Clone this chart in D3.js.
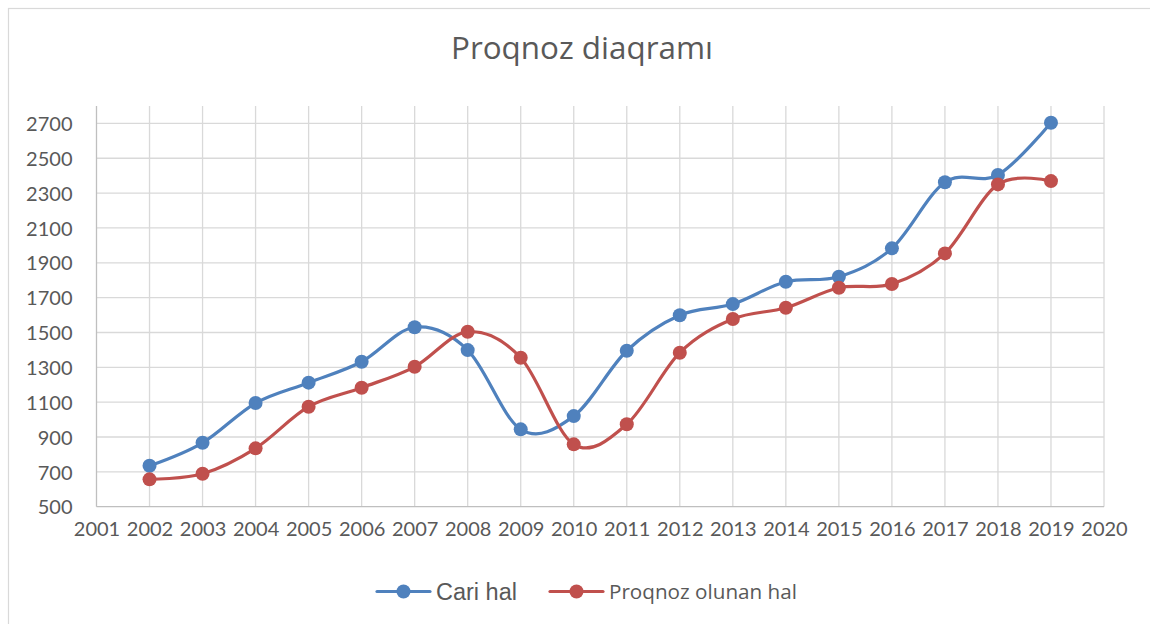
<!DOCTYPE html>
<html>
<head>
<meta charset="utf-8">
<script src="https://cdn.jsdelivr.net/npm/d3@7"></script>
<style>
  body { margin: 0; background: #fff; }
  svg { display: block; }
</style>
</head>
<body>
<svg id="chart" width="1150" height="624"></svg>
<script>
// data
const years = [2002, 2003, 2004, 2005, 2006, 2007, 2008, 2009, 2010, 2011,
               2012, 2013, 2014, 2015, 2016, 2017, 2018, 2019];
const cariHal = [735, 867, 1095, 1212, 1332, 1530, 1399, 944, 1020, 1395,
                 1599, 1663, 1791, 1820, 1983, 2362, 2404, 2704];
const proqnozHal = [657, 689, 835, 1074, 1183, 1303, 1504, 1355, 858, 973,
                    1384, 1577, 1642, 1757, 1778, 1954, 2350, 2369];
const xTicks = d3.range(2001, 2021);
const yTicks = d3.range(500, 2701, 200);
const seriesNames = ["Cari hal", "Proqnoz olunan hal"];

const colors = ["#4f81bd", "#c0504d"];
const textColor = "#595959";
const fontFam = "Lato, 'Open Sans', sans-serif";
const wideFam = "'Open Sans', Lato, sans-serif";

const svg = d3.select("#chart");

// shrink/grow a text so it spans the wanted width
function fitWidth(sel, target){
  let size = parseFloat(sel.attr("font-size"));
  let w = sel.node().getComputedTextLength();
  if (w > 0) sel.attr("font-size", (size * target / w).toFixed(2));
}

// outer chart border
svg.append("rect")
  .attr("x", 8.5).attr("y", 8.5)
  .attr("width", 1160).attr("height", 640)
  .attr("fill", "none")
  .attr("stroke", "#d9d9d9")
  .attr("stroke-width", 1.2);

const plot = {left: 96.5, right: 1104, top: 106, bottom: 506.7};

const x = d3.scaleLinear().domain([2001, 2020]).range([plot.left, plot.right]);
const y = d3.scaleLinear().domain([500, 2800]).range([plot.bottom, plot.top]);

// title
const title = svg.append("text")
  .attr("x", 582).attr("y", 59)
  .attr("text-anchor", "middle")
  .attr("font-family", wideFam)
  .attr("font-size", 28)
  .attr("fill", textColor)
  .text("Proqnoz diaqramı");
fitWidth(title, 262);

// grid: horizontal
const grid = svg.append("g");
grid.selectAll("line.h")
  .data(yTicks.filter(d => d > 500))
  .enter().append("line")
  .attr("class", "h")
  .attr("x1", plot.left).attr("x2", plot.right)
  .attr("y1", d => y(d)).attr("y2", d => y(d))
  .attr("stroke", "#d9d9d9").attr("stroke-width", 1.3);

// grid: vertical
grid.selectAll("line.v")
  .data(xTicks.filter(d => d > 2001))
  .enter().append("line")
  .attr("class", "v")
  .attr("x1", d => x(d)).attr("x2", d => x(d))
  .attr("y1", plot.top).attr("y2", plot.bottom)
  .attr("stroke", "#d9d9d9").attr("stroke-width", 1.3);

// axes with d3 axis generators
const xAxis = d3.axisBottom(x)
  .tickValues(xTicks)
  .tickFormat(d3.format("d"))
  .tickSize(0)
  .tickPadding(15);

const yAxis = d3.axisLeft(y)
  .tickValues(yTicks)
  .tickFormat(d3.format("d"))
  .tickSize(0)
  .tickPadding(24);

const gx = svg.append("g")
  .attr("transform", `translate(0,${plot.bottom})`)
  .call(xAxis);
const gy = svg.append("g")
  .attr("transform", `translate(${plot.left},0)`)
  .call(yAxis);

[gx, gy].forEach(g => {
  g.select(".domain").attr("stroke", "#bfbfbf").attr("stroke-width", 1.3);
  g.selectAll("text")
    .attr("font-family", fontFam)
    .attr("font-size", 20)
    .attr("fill", textColor);
});
gx.select(".domain").attr("d", `M${plot.left},0H${plot.right}`);
gy.select(".domain").attr("d", `M0,${plot.bottom}V${plot.top}`);
gy.selectAll("text").attr("dy", "0.36em");

// series
const line = d3.line()
  .x(d => x(d[0]))
  .y(d => y(d[1]))
  .curve(d3.curveCardinal.tension(0));

const series = [cariHal, proqnozHal].map(vals => years.map((yr, i) => [yr, vals[i]]));

series.forEach((pts, si) => {
  const g = svg.append("g");
  g.append("path")
    .datum(pts)
    .attr("d", line)
    .attr("fill", "none")
    .attr("stroke", colors[si])
    .attr("stroke-width", 3.2)
    .attr("stroke-linecap", "round");
  g.selectAll("circle")
    .data(pts)
    .enter().append("circle")
    .attr("cx", d => x(d[0]))
    .attr("cy", d => y(d[1]))
    .attr("r", 7)
    .attr("fill", colors[si]);
});

// legend
const legendItems = [
  {x0: 377, tx: 436, size: 23.5, fam: "'Liberation Sans', Arial, sans-serif", w: 81},
  {x0: 550, tx: 609, size: 20, fam: wideFam, w: 188}
];
const legY = 591.5;
legendItems.forEach((it, i) => {
  const g = svg.append("g");
  g.append("line")
    .attr("x1", it.x0).attr("x2", it.x0 + 53)
    .attr("y1", legY).attr("y2", legY)
    .attr("stroke", colors[i]).attr("stroke-width", 3.2)
    .attr("stroke-linecap", "round");
  g.append("circle")
    .attr("cx", it.x0 + 26.5).attr("cy", legY).attr("r", 7)
    .attr("fill", colors[i]);
  const t = g.append("text")
    .attr("x", it.tx).attr("y", legY)
    .attr("dy", "0.36em")
    .attr("font-family", it.fam)
    .attr("font-size", it.size)
    .attr("fill", textColor)
    .text(seriesNames[i]);
  fitWidth(t, it.w);
});
</script>
</body>
</html>
